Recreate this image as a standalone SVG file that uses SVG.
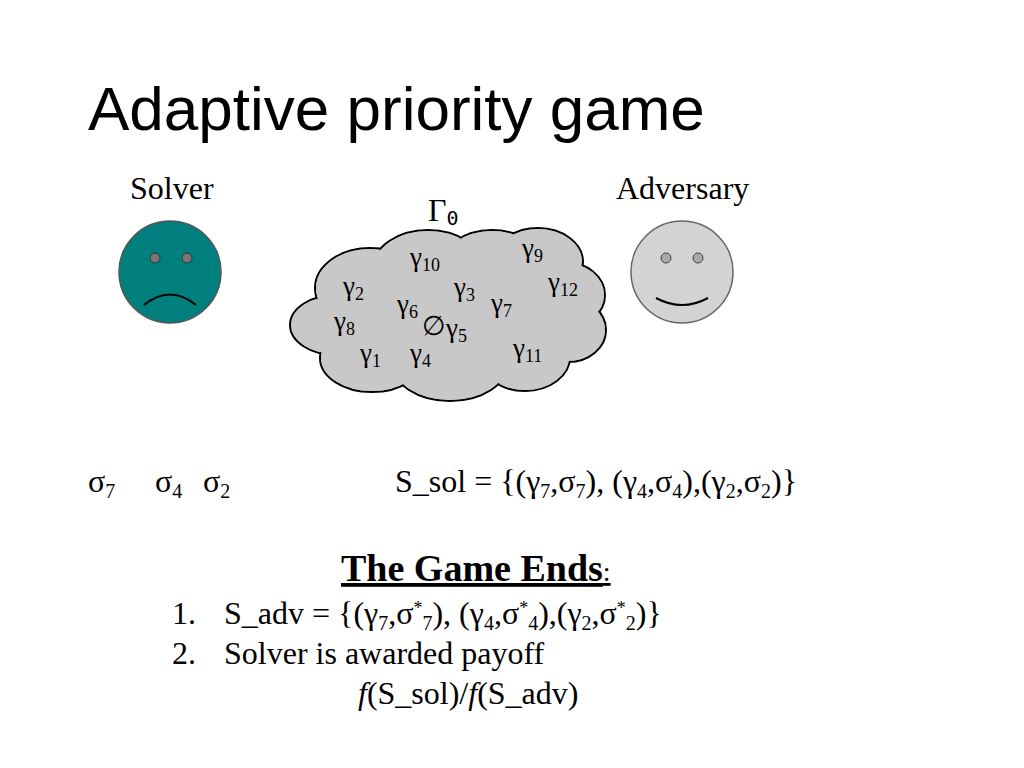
<svg xmlns="http://www.w3.org/2000/svg" width="1024" height="768" viewBox="0 0 1024 768">
<style>
.s{font-family:"Liberation Serif","DejaVu Serif",serif;font-size:32px;fill:#000}
.g{font-family:"Liberation Serif","DejaVu Serif",serif;font-size:27px;fill:#000}
.sub{font-size:18px}
.lob{fill:#c8c8c8;stroke:#000;stroke-width:2}
.lobf{fill:#c8c8c8}
</style>
<rect width="1024" height="768" fill="#fff"/>
<text x="88" y="130" font-family="Liberation Sans, sans-serif" font-size="62">Adaptive priority game</text>
<g id="solver">
<text class="s" x="130" y="199">Solver</text>
<circle cx="170" cy="272" r="51" fill="#007f7f" stroke="#555" stroke-width="1.5"/>
<circle cx="155" cy="258" r="5" fill="#777" stroke="#333"/>
<circle cx="187" cy="258" r="5" fill="#777" stroke="#333"/>
<path d="M144 305 Q170 284 196 305" fill="none" stroke="#000" stroke-width="2"/>
</g>
<g id="adversary">
<text class="s" x="616" y="199">Adversary</text>
<circle cx="682" cy="272" r="51" fill="#d3d3d3" stroke="#666" stroke-width="1.5"/>
<circle cx="666" cy="258" r="5" fill="#aaa" stroke="#444"/>
<circle cx="698" cy="258" r="5" fill="#aaa" stroke="#444"/>
<path d="M656 298 Q682 312 708 298" fill="none" stroke="#000" stroke-width="2"/>
</g>
<g id="cloud">
<g class="lob">
<ellipse cx="336" cy="325" rx="46" ry="30"/>
<ellipse cx="370" cy="288" rx="55" ry="40"/>
<ellipse cx="428" cy="268" rx="55" ry="38"/>
<ellipse cx="492" cy="268" rx="52" ry="38"/>
<ellipse cx="538" cy="262" rx="45" ry="34"/>
<ellipse cx="565" cy="295" rx="40" ry="33"/>
<ellipse cx="568" cy="330" rx="38" ry="32"/>
<ellipse cx="525" cy="357" rx="45" ry="34"/>
<ellipse cx="450" cy="363" rx="58" ry="38"/>
<ellipse cx="372" cy="358" rx="52" ry="34"/>
</g>
<g class="lobf">
<ellipse cx="336" cy="325" rx="45" ry="29"/>
<ellipse cx="370" cy="288" rx="54" ry="39"/>
<ellipse cx="428" cy="268" rx="54" ry="37"/>
<ellipse cx="492" cy="268" rx="51" ry="37"/>
<ellipse cx="538" cy="262" rx="44" ry="33"/>
<ellipse cx="565" cy="295" rx="39" ry="32"/>
<ellipse cx="568" cy="330" rx="37" ry="31"/>
<ellipse cx="525" cy="357" rx="44" ry="33"/>
<ellipse cx="450" cy="363" rx="57" ry="37"/>
<ellipse cx="372" cy="358" rx="51" ry="33"/>
<ellipse cx="450" cy="315" rx="115" ry="50"/>
</g>
<text x="428" y="221" font-family="Liberation Serif,serif" font-size="32">Γ<tspan font-family="DejaVu Sans Mono,monospace" font-size="20" dy="4">0</tspan></text>
<g class="g">
<text x="410" y="266">γ<tspan class="sub" dy="5">10</tspan></text>
<text x="522" y="257">γ<tspan class="sub" dy="5">9</tspan></text>
<text x="548" y="291">γ<tspan class="sub" dy="5">12</tspan></text>
<text x="343" y="295">γ<tspan class="sub" dy="5">2</tspan></text>
<text x="454" y="296">γ<tspan class="sub" dy="5">3</tspan></text>
<text x="491" y="312">γ<tspan class="sub" dy="5">7</tspan></text>
<text x="397" y="313">γ<tspan class="sub" dy="5">6</tspan></text>
<text x="334" y="330">γ<tspan class="sub" dy="5">8</tspan></text>
<text x="422" y="335">∅</text>
<text x="446" y="337">γ<tspan class="sub" dy="5">5</tspan></text>
<text x="513" y="357">γ<tspan class="sub" dy="5">11</tspan></text>
<text x="360" y="362">γ<tspan class="sub" dy="5">1</tspan></text>
<text x="410" y="362">γ<tspan class="sub" dy="5">4</tspan></text>
</g>
</g>
<g class="s">
<text x="88" y="492">σ<tspan font-size="20" dy="6">7</tspan></text>
<text x="155" y="492">σ<tspan font-size="20" dy="6">4</tspan></text>
<text x="203" y="492">σ<tspan font-size="20" dy="6">2</tspan></text>
<text x="395" y="492">S_sol = {(γ<tspan font-size="20" dy="6">7</tspan><tspan dy="-6">,σ</tspan><tspan font-size="20" dy="6">7</tspan><tspan dy="-6">), (γ</tspan><tspan font-size="20" dy="6">4</tspan><tspan dy="-6">,σ</tspan><tspan font-size="20" dy="6">4</tspan><tspan dy="-6">),(γ</tspan><tspan font-size="20" dy="6">2</tspan><tspan dy="-6">,σ</tspan><tspan font-size="20" dy="6">2</tspan><tspan dy="-6">)}</tspan></text>
<text x="341" y="581" font-size="38" font-weight="bold" text-decoration="underline">The Game Ends<tspan font-weight="normal" font-size="28">:</tspan></text>
<text x="172" y="624">1.</text>
<text x="224" y="624">S_adv = {(γ<tspan font-size="20" dy="6">7</tspan><tspan dy="-6">,σ</tspan><tspan font-size="18" dy="-10">*</tspan><tspan font-size="20" dy="16">7</tspan><tspan dy="-6">), (γ</tspan><tspan font-size="20" dy="6">4</tspan><tspan dy="-6">,σ</tspan><tspan font-size="18" dy="-10">*</tspan><tspan font-size="20" dy="16">4</tspan><tspan dy="-6">),(γ</tspan><tspan font-size="20" dy="6">2</tspan><tspan dy="-6">,σ</tspan><tspan font-size="18" dy="-10">*</tspan><tspan font-size="20" dy="16">2</tspan><tspan dy="-6">)}</tspan></text>
<text x="172" y="664">2.</text>
<text x="224" y="664">Solver is awarded payoff</text>
<text x="358" y="704"><tspan font-style="italic">f</tspan>(S_sol)/<tspan font-style="italic">f</tspan>(S_adv)</text>
</g>
</svg>
